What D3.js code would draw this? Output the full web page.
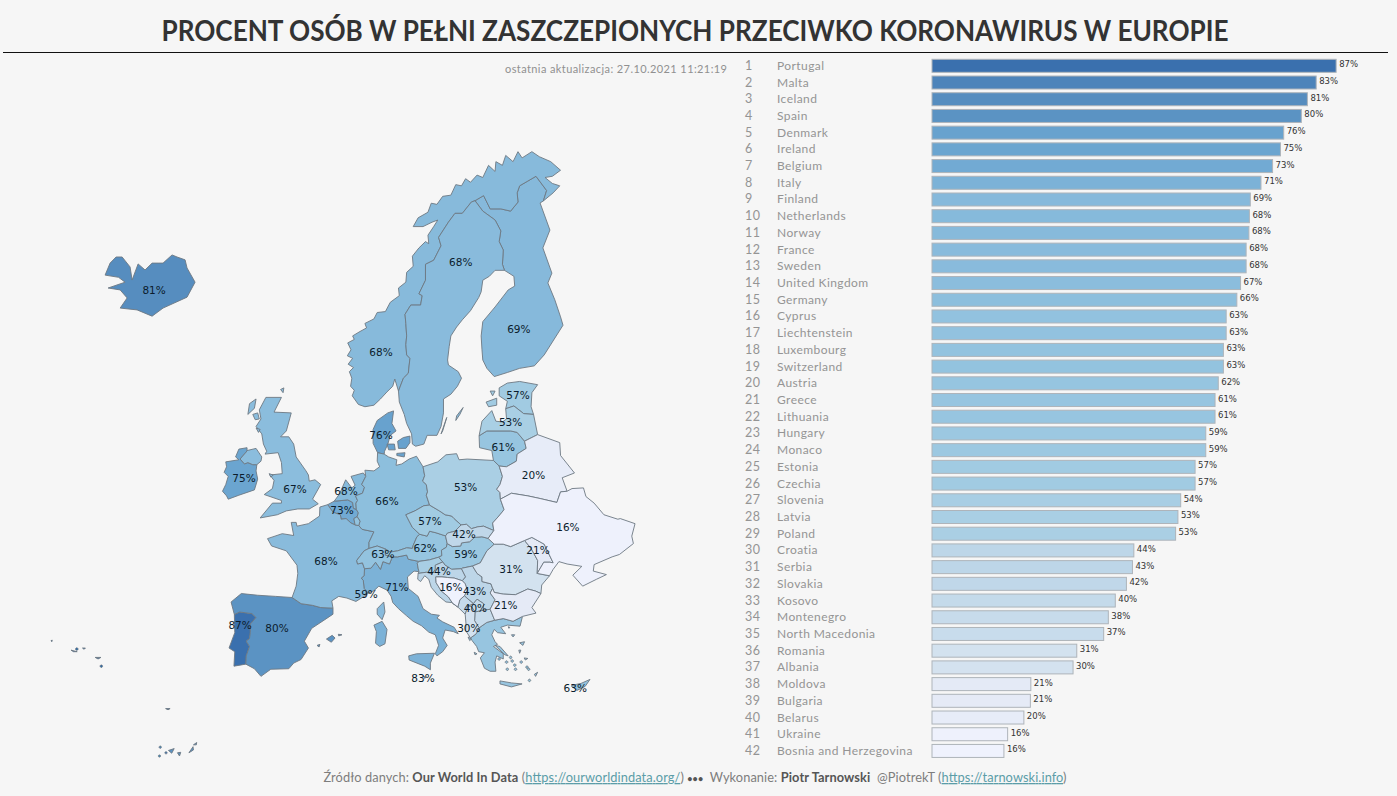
<!DOCTYPE html>
<html><head><meta charset="utf-8">
<script src="https://cdn.jsdelivr.net/npm/d3@7"></script>
<style>
html,body{margin:0;padding:0;background:#f6f6f6;overflow:hidden}
svg{display:block}
</style></head><body>
<svg id="c" width="1397" height="796"></svg>
<script>
const countries=["Portugal","Malta","Iceland","Spain","Denmark","Ireland","Belgium","Italy","Finland","Netherlands","Norway","France","Sweden","United Kingdom","Germany","Cyprus","Liechtenstein","Luxembourg","Switzerland","Austria","Greece","Lithuania","Hungary","Monaco","Estonia","Czechia","Slovenia","Latvia","Poland","Croatia","Serbia","Slovakia","Kosovo","Montenegro","North Macedonia","Romania","Albania","Moldova","Bulgaria","Belarus","Ukraine","Bosnia and Herzegovina"];
const values=[87.1,82.8,80.9,79.6,75.8,75.1,73.4,70.9,68.6,68.4,68.3,67.7,67.7,66.5,65.7,63.4,63.4,62.8,62.8,61.7,61.0,61.0,59.0,59.0,56.7,56.7,53.6,53.0,52.5,43.5,43.2,41.9,39.5,38.0,37.0,31.2,30.4,21.3,21.2,19.8,16.3,15.5];
const colorStops=[15.5,21,31,44,53,63,68,75,80,87];
const colorRange=["#eff2fd","#e5eaf6","#d3e2ef","#bcd5e8","#a9cfe4","#93c3df","#88bbdc","#6ba5d0","#5a91c2","#3a70ae"];
const titleText="PROCENT OSÓB W PEŁNI ZASZCZEPIONYCH PRZECIWKO KORONAWIRUS W EUROPIE";
const updatedText="ostatnia aktualizacja: 27.10.2021 11:21:19";

// shared border lines, lon/lat
const arcs={
no_se:[[11.2,59],[11.8,59.8],[12.4,60.1],[12.6,61],[12.2,61.2],[12.1,61.8],[12.2,62.3],[12.1,63],[12,63.5],[12.7,64],[13.9,64],[14.1,64.5],[13.7,64.6],[14.5,65.3],[14.5,66.1],[15.5,66.3],[16.4,67],[16.1,67.4],[17.3,68.1],[18.1,68.5],[19,68.5],[20.1,69],[20.55,69.06]],
no_fi:[[20.55,69.06],[21.6,69.28],[22.4,68.7],[23.7,68.7],[24.9,68.6],[25.8,69],[25.7,69.4],[26,69.7],[27,69.9],[28,70.1],[29.3,69.5],[28.9,69.05]],
no_coast:[[11.2,59],[10.75,59.75],[10.5,59.3],[9.8,58.95],[9,58.5],[8.2,58.1],[7.1,58],[6.3,58.15],[5.55,58.7],[5.8,59.05],[5.35,59.3],[5.5,59.8],[5.2,60.2],[5.7,60.45],[5.05,60.65],[5.6,61],[4.95,61.15],[5.4,61.5],[5,61.9],[5.8,62.1],[5.6,62.3],[6.5,62.55],[7.3,62.75],[7.1,63],[8.2,63.25],[8.6,63.6],[9.6,63.65],[10.2,64.15],[11.3,64.5],[11.2,64.9],[12.1,65.2],[12.2,65.7],[13,66],[12.9,66.5],[13.7,66.9],[14.5,67.2],[14.9,67.1],[14.8,67.5],[15.5,67.9],[16,68.2],[15.3,68.1],[14.2,67.9],[13,67.9],[13.6,68.3],[14.8,68.55],[15.2,68.95],[15.9,68.9],[16.6,69.25],[17.6,69.3],[18.2,69.75],[18.9,69.7],[19.4,70],[20,69.85],[20.8,70.15],[21.5,70.05],[22.2,70.55],[23,70.3],[23.1,70.7],[23.9,70.55],[24.3,70.95],[25.2,70.7],[25.8,71.1],[26.3,70.85],[27.5,71.1],[28.4,70.9],[29.8,70.7],[31,70.35],[30,70.1],[29.1,70.05],[30,69.8],[30.9,69.7],[30.1,69.4],[28.9,69.05]],
se_fi:[[20.55,69.06],[21.5,68.6],[23,68.2],[23.7,67.7],[23.5,67.2],[24,66.8],[23.9,66.1],[24.15,65.8]],
se_coast:[[24.15,65.8],[23,65.8],[22.3,65.5],[21.5,65.3],[21.3,64.7],[21,64.4],[20,63.7],[19,63.2],[18.3,62.8],[17.6,62.3],[17.4,61.7],[17.2,60.9],[17.3,60.6],[18.5,60.2],[18.9,59.8],[18.4,59.3],[17.6,58.8],[16.7,58.5],[16.7,57.6],[16.4,56.7],[15.9,56.1],[14.7,56.1],[14.3,55.5],[13.3,55.35],[12.9,55.5],[12.8,56.2],[12.2,56.9],[11.9,57.5],[11.3,58.3],[11.2,59]],
fi_coast:[[24.15,65.8],[25.3,65.5],[25.4,65],[24.6,64.8],[23,63.9],[21.5,63.1],[21.3,62.3],[21.4,61.5],[21.5,60.9],[22,60.4],[22.9,59.9],[24.5,60.15],[26,60.4],[27.8,60.55],[29,61.2],[31.3,62.9],[31,63.36],[30.3,64.28],[29.45,65.16],[29.94,65.66],[28.84,66.9],[29.7,67.74],[28.5,68.96],[28.9,69.05]],
de_dk:[[8.65,54.9],[9.45,54.8]],
de_balt:[[9.45,54.8],[10,54.6],[11,54.4],[10.9,54],[11.6,54.1],[12.5,54.45],[13.4,54.65],[14.2,53.9]],
de_pl:[[14.2,53.9],[14.4,53.25],[14.15,52.85],[14.6,52.6],[14.75,52.05],[14.6,51.8],[15,51.05]],
de_cz:[[15,51.05],[14.3,51],[13.2,50.6],[12.1,50.3],[12.5,49.8],[12.9,49.3],[13.8,48.75]],
de_at:[[13.8,48.75],[13.45,48.55],[13,47.85],[12.9,47.6],[12.2,47.65],[11.1,47.4],[10.2,47.3],[9.6,47.55]],
de_ch:[[9.6,47.55],[8.6,47.8],[7.6,47.6]],
de_fr:[[7.6,47.6],[7.6,48.1],[8.2,48.95],[6.75,49.15],[6.35,49.45]],
de_lu:[[6.35,49.45],[6.5,49.8],[6.15,50.15]],
de_be:[[6.15,50.15],[6.3,50.45],[6.05,50.72]],
de_nl:[[6.05,50.72],[6,51.2],[6.2,51.4],[5.95,51.75],[6.8,51.95],[7.05,52.4],[6.7,52.6],[7.2,53.2]],
de_n:[[7.2,53.2],[7.1,53.65],[8.2,53.6],[8.9,53.9],[8.6,54.3],[8.65,54.9]],
fr_n:[[2.55,51.08],[1.6,50.9],[1.55,50.2],[0.2,49.6],[-1.2,49.4],[-1.3,49.7],[-1.9,49.7],[-1.6,48.65],[-3,48.8],[-4.8,48.4],[-4.3,47.8],[-2.5,47.4],[-1.2,46.2],[-1.1,45.5],[-1.3,44.4],[-1.8,43.4]],
fr_es:[[-1.8,43.4],[-0.7,42.85],[0.7,42.7],[1.7,42.5],[3.2,42.45]],
fr_med:[[3.2,42.45],[3.05,43.1],[3.9,43.5],[4.9,43.35],[6,43.05],[7,43.5],[7.5,43.78]],
fr_it:[[7.5,43.78],[7,44.2],[6.9,44.9],[6.65,45.1],[7,45.3],[7.05,45.9]],
fr_ch:[[7.05,45.9],[6.8,46.4],[6.2,46.3],[6.1,46.6],[7,47.4],[7.6,47.6]],
fr_lu:[[6.35,49.45],[5.9,49.5]],
fr_be:[[5.9,49.5],[5.4,49.65],[4.8,50],[4.2,49.95],[4.1,50.3],[3.2,50.5],[2.55,51.08]],
be_lu:[[6.15,50.15],[5.75,50],[5.9,49.5]],
be_nl:[[3.35,51.35],[4.3,51.4],[5,51.45],[5.6,51.25],[5.7,50.8],[6.05,50.72]],
be_c:[[3.35,51.35],[2.55,51.08]],
nl_c:[[3.35,51.35],[4,51.9],[4.75,52.95],[5.5,52.35],[5.9,52.55],[5.4,53.2],[6.9,53.45],[7.2,53.2]],
jut_c:[[8.65,54.9],[8.1,55.55],[8.1,56.5],[8.6,57.1],[9.9,57.6],[10.6,57.73],[10.4,56.9],[10.9,56.4],[10.2,56.1],[9.9,55.5],[9.5,55],[9.45,54.8]],
pl_coast:[[14.2,53.9],[16,54.25],[17,54.75],[18.3,54.83],[18.6,54.4],[19.6,54.45],[22.8,54.35]],
pl_lt:[[22.8,54.35],[23.5,53.95]],
pl_by:[[23.5,53.95],[23.9,53.2],[23.6,52.6],[23.2,52.25],[23.6,52],[23.65,51.5]],
pl_ua:[[23.65,51.5],[24.1,50.7],[23.6,50.3],[22.7,49.65],[22.85,49.05]],
pl_sk:[[22.85,49.05],[21.6,49.4],[20.9,49.35],[20.1,49.2],[19.5,49.55],[18.85,49.5]],
pl_cz:[[18.85,49.5],[18,50],[17.7,50.2],[16.9,50.3],[16.2,50.6],[15,51.05]],
cz_sk:[[18.85,49.5],[18.1,49],[17.2,48.85],[16.95,48.62]],
cz_at:[[16.95,48.62],[15.8,48.87],[15,49],[14.7,48.6],[13.8,48.75]],
sk_at:[[16.95,48.62],[17.15,48]],
sk_ua:[[22.85,49.05],[22.15,48.42]],
sk_hu:[[22.15,48.42],[21.4,48.55],[20.5,48.5],[19.9,48.15],[18.9,48.05],[18.8,47.8],[17.8,47.75],[17.15,48]],
at_hu:[[17.15,48],[17.05,47.7],[16.45,47.45],[16.5,47],[16.1,46.87]],
at_si:[[16.1,46.87],[15,46.65],[13.7,46.52]],
at_it:[[13.7,46.52],[12.4,46.7],[12.2,47.05],[11.1,46.9],[10.45,46.9]],
at_ch:[[10.45,46.9],[9.6,47.05],[9.6,47.55]],
ch_it:[[10.45,46.9],[10.1,46.3],[9.3,46.5],[9,45.85],[8.4,46.45],[7.85,45.95],[7.05,45.9]],
it_c:[[7.5,43.78],[8.2,44],[8.8,44.4],[9.8,44.05],[10.3,43.5],[10.5,42.95],[11.2,42.4],[12.2,41.75],[13,41.25],[14,40.85],[14.9,40.25],[15.7,40],[16.1,39],[15.7,38.2],[15.9,38],[16.6,38.4],[17.15,39],[16.6,39.7],[16.9,40.45],[17.9,40.3],[18.5,40.1],[18,40.7],[16.6,41.2],[15.9,41.55],[16.2,41.8],[15.2,41.9],[14.2,42.4],[13.6,43.5],[12.4,44.2],[12.3,45.2],[13.1,45.7],[13.7,45.65]],
it_si:[[13.7,45.65],[13.6,45.95],[13.5,46.35],[13.7,46.52]],
si_c:[[13.6,45.5],[13.7,45.65]],
si_hu:[[16.1,46.87],[16.6,46.47]],
si_hr:[[16.6,46.47],[15.7,46.2],[15.7,45.85],[15.3,45.45],[14.6,45.6],[13.6,45.5]],
hu_ua:[[22.15,48.42],[22.9,47.95]],
hu_ro:[[22.9,47.95],[22,47.4],[21.2,46.4],[20.25,46.13]],
hu_rs:[[20.25,46.13],[19,45.95],[18.9,45.9]],
hu_hr:[[18.9,45.9],[17.7,45.85],[16.9,46.2],[16.6,46.47]],
hr_c:[[13.6,45.5],[13.55,45],[13.9,44.8],[14.4,45.3],[14.9,45],[15.2,44.3],[16,43.6],[17,43],[17.7,42.95],[18.45,42.55]],
hr_ba:[[18.45,42.55],[17.8,42.9],[17.3,43.45],[16.4,44],[15.8,44.7],[15.75,45.2],[16.5,45.2],[17.2,45.15],[18,45.1],[19,44.87]],
hr_rs:[[19,44.87],[19.4,45.2],[18.9,45.9]],
ba_rs:[[19,44.87],[19.35,44.6],[19.6,44.05],[19.25,43.55]],
ba_me:[[19.25,43.55],[18.7,43.2],[18.45,42.55]],
me_c:[[18.45,42.55],[19.35,41.9]],
me_al:[[19.35,41.9],[19.7,42.65]],
me_xk:[[19.7,42.65],[20.35,42.85]],
me_rs:[[20.35,42.85],[19.25,43.55]],
rs_ro:[[20.25,46.13],[20.8,45.5],[21.4,45.2],[21.4,44.8],[22.5,44.6],[22.7,44.2]],
rs_bg:[[22.7,44.2],[22.4,43.8],[23,43.2],[22.4,42.35]],
rs_mk:[[22.4,42.35],[21.55,42.25]],
rs_xk:[[21.55,42.25],[21.6,42.85],[20.8,43.25],[20.35,42.85]],
xk_al:[[19.7,42.65],[20.1,42.6],[20.55,42.1]],
xk_mk:[[20.55,42.1],[21.55,42.25]],
al_c:[[19.35,41.9],[19.45,41],[19.4,40.4],[20,39.7]],
al_gr:[[20,39.7],[20.7,40.1],[21.05,40.65]],
al_mk:[[21.05,40.65],[20.5,41.3],[20.55,42.1]],
mk_bg:[[22.4,42.35],[22.95,41.35]],
mk_gr:[[22.95,41.35],[22,41.15],[21.05,40.65]],
gr_bg:[[22.95,41.35],[24,41.5],[25.2,41.25],[26.35,41.7]],
gr_c:[[26.35,41.7],[26.05,40.8],[24.5,40.9],[23.7,40.7],[24.3,40.1],[23.3,40.2],[22.9,40.5],[22.6,40],[23,39.35],[23.3,39.1],[22.8,38.9],[24,38.2],[24,37.7],[23.2,38],[23,37.4],[23.1,36.5],[22.4,36.5],[21.7,36.8],[21.2,37.8],[21.7,38.3],[21,38.4],[20.75,38.9],[20.2,39.45],[20,39.7]],
bg_c:[[28.6,43.75],[27.5,42.5],[28,42],[26.35,41.7]],
bg_ro:[[28.6,43.75],[27.9,43.98],[27,44.15],[25.5,43.65],[24,43.7],[22.9,43.85],[22.7,44.2]],
ro_ua_n:[[22.9,47.95],[24,47.95],[24.9,47.75],[26.6,48.25]],
ro_md:[[26.6,48.25],[27.4,47.6],[28.2,46.6],[28.15,45.5]],
ro_ua_s:[[28.15,45.5],[29.65,45.3]],
ro_c:[[29.65,45.3],[28.7,44.5],[28.6,43.75]],
md_ua:[[26.6,48.25],[27.5,48.5],[29,47.95],[30.1,46.4],[29.7,46.45],[28.95,46.45],[28.15,45.5]],
by_ua:[[23.65,51.5],[25,51.95],[27,51.75],[28.5,51.55],[30.55,51.25],[31,52.05],[31.8,52.1]],
ua_e:[[31.8,52.1],[32.4,52.3],[33.8,52.35],[34.1,51.7],[35.1,51.2],[36.3,50.3],[38,49.95],[38.3,50],[40.1,49.6],[39.7,48.6],[39.9,48],[38.2,47.1],[37.3,46.9],[35.1,46.25],[35,45.7],[36.6,45.4],[35.4,45],[33.7,44.4],[32.5,45.35],[33.6,46.1],[31.8,46.3],[30.8,46.5],[30.1,45.85],[29.65,45.3]],
by_e:[[28.2,56.15],[30.9,55.6],[31,54.7],[32.7,53.45],[31.2,53.1],[31.8,52.1]],
lv_by:[[28.2,56.15],[26.6,55.7]],
lt_by:[[26.6,55.7],[26.8,55.2],[25.7,54.8],[25.6,54.3],[24.4,53.9],[23.5,53.95]],
lt_kal:[[22.8,54.35],[22.6,55.05],[21.1,55.25]],
lt_c:[[21.1,55.25],[21.05,56.07]],
lt_lv:[[26.6,55.7],[25.7,56.3],[24.9,56.4],[22,56.4],[21.05,56.07]],
lv_c:[[21.05,56.07],[21.4,57.05],[22.6,57.75],[23.1,57.05],[23.9,57],[24.4,57.2],[24.3,57.87]],
lv_ee:[[27.7,57.5],[26.5,57.55],[25.3,58.05],[24.3,57.87]],
lv_e:[[27.7,57.5],[28.2,56.15]],
ee_c:[[24.3,57.87],[24.5,58.35],[23.5,58.7],[23.5,59.2],[24.5,59.5],[26,59.6],[28.2,59.4]],
ee_e:[[28.2,59.4],[27.5,58.9],[27.4,58],[27.7,57.5]],
pt_es:[[-8.85,41.87],[-8.2,42.1],[-6.7,41.95],[-6.2,41.6],[-6.9,41],[-6.9,40.2],[-7,39.65],[-7.4,39.4],[-7,38.9],[-7.4,38],[-7.45,37.2]],
es_s:[[-7.45,37.2],[-6.4,36.75],[-5.6,36],[-4.4,36.7],[-2.2,36.75],[-1.6,37.3],[-0.7,37.65],[0.2,38.75],[-0.3,39.4],[0.6,40.6],[2.2,41.4],[3.2,41.9],[3.2,42.45]],
es_n:[[-1.8,43.4],[-3.8,43.5],[-6,43.6],[-8,43.75],[-9.25,43],[-8.85,41.87]],
pt_c:[[-7.45,37.2],[-8.9,37],[-8.8,38.4],[-9.5,38.75],[-8.8,40.2],[-8.85,41.87]],
ie_ni:[[-6.1,54.05],[-6.6,54.05],[-7.2,54.2],[-7.6,54.1],[-8.15,54.45],[-7.4,54.95],[-7.3,55.05]],
ie_c:[[-7.3,55.05],[-7.3,55.25],[-8.3,55.15],[-8.7,54.6],[-8.3,54.4],[-9.9,54.25],[-9.8,53.9],[-10.1,53.5],[-9.6,53.2],[-9.9,52.6],[-10.3,52.1],[-9.8,51.75],[-9.6,51.5],[-8.3,51.8],[-6.4,52.2],[-6,53],[-6.2,53.6],[-6.1,54.05]]
};
// country outlines: border lines ("-" = walked backwards) and separate islands
const borders={
Norway:["no_coast","-no_fi","-no_se"],Sweden:["no_se","se_fi","se_coast"],Finland:["fi_coast","-no_fi","se_fi"],
Germany:["de_dk","de_balt","de_pl","de_cz","de_at","de_ch","de_fr","de_lu","de_be","de_nl","de_n"],
Poland:["pl_coast","pl_lt","pl_by","pl_ua","pl_sk","pl_cz","-de_pl"],
Czechia:["de_cz","-cz_at","-cz_sk","pl_cz"],
Slovakia:["pl_sk","cz_sk","sk_at","-sk_hu","-sk_ua"],
Austria:["de_at","-at_ch","-at_it","-at_si","-at_hu","-sk_at","cz_at"],
Switzerland:["de_ch","-fr_ch","-ch_it","at_ch"],
France:["fr_n","fr_es","fr_med","fr_it","fr_ch","de_fr","fr_lu","fr_be"],
Belgium:["-fr_be","-be_lu","de_be","-be_nl","be_c"],
Luxembourg:["de_lu","be_lu","-fr_lu"],
Netherlands:["be_nl","de_nl","-nl_c"],
Denmark:["jut_c","-de_dk"],
Italy:["it_c","it_si","at_it","ch_it","-fr_it"],
Slovenia:["si_c","it_si","-at_si","si_hu","si_hr"],
Hungary:["-at_hu","-sk_hu","hu_ua","hu_ro","hu_rs","hu_hr","-si_hu"],
Croatia:["si_hr","hr_c","hr_ba","hr_rs","hu_hr"],
"Bosnia and Herzegovina":["hr_ba","ba_rs","ba_me"],
Montenegro:["-ba_me","-me_rs","-me_xk","-me_al","-me_c"],
Serbia:["-ba_rs","hr_rs","-hu_rs","rs_ro","rs_bg","rs_mk","rs_xk","me_rs"],
Kosovo:["-rs_xk","-xk_mk","-xk_al","me_xk"],
Albania:["me_al","xk_al","-al_mk","-al_gr","-al_c"],
"North Macedonia":["al_mk","xk_mk","-rs_mk","mk_bg","mk_gr"],
Greece:["al_gr","-mk_gr","gr_bg","gr_c"],
Bulgaria:["-rs_bg","-bg_ro","bg_c","-gr_bg","-mk_bg"],
Romania:["-hu_ro","ro_ua_n","ro_md","ro_ua_s","ro_c","bg_ro","-rs_ro"],
Moldova:["-ro_md","md_ua"],
Ukraine:["by_ua","ua_e","-ro_ua_s","-md_ua","-ro_ua_n","-hu_ua","-sk_ua","-pl_ua"],
Belarus:["-pl_by","-lt_by","-lv_by","by_e","-by_ua"],
Lithuania:["lt_by","-pl_lt","lt_kal","lt_c","-lt_lv"],
Latvia:["lt_lv","lv_c","-lv_ee","lv_e","lv_by"],
Estonia:["lv_ee","ee_c","ee_e"],
Spain:["pt_es","es_s","-fr_es","es_n"],
Portugal:["pt_es","pt_c"],
Ireland:["ie_ni","ie_c"]
};
const extraRings={
Iceland:[[[-24.64,65.56],[-24.03,66.16],[-23.3,66.46],[-22.56,66.46],[-21.59,65.97],[-21.34,65.31],[-20.61,66.12],[-19.76,65.82],[-18.9,66.16],[-18.17,66.16],[-17.56,66.16],[-16.46,66.56],[-15.85,66.46],[-14.87,66.32],[-14.63,65.92],[-13.65,65.2],[-14.63,64.42],[-17.56,63.84],[-18.9,63.4],[-20.73,63.74],[-22.8,63.84],[-21.95,64.38],[-22.8,64.8],[-24.27,64.9],[-22.2,65.2],[-23,65.45]]],
"United Kingdom":[
[[-7.3,55.05],[-6.2,55.2],[-5.5,54.6],[-5.6,54.3],[-6.1,54.05],[-6.6,54.05],[-7.2,54.2],[-7.6,54.1],[-8.15,54.45],[-7.4,54.95]],
[[-5.7,50.05],[-3.6,50.3],[-2.5,50.6],[-1.1,50.75],[0.3,50.75],[1.4,51.15],[0.7,51.5],[1.7,52.6],[1,52.95],[0.3,52.85],[0.2,53.3],[-0.1,53.6],[-1.3,54.6],[-1.6,55.5],[-2.2,56],[-3.2,56],[-2.5,56.4],[-2.1,57.2],[-1.9,57.6],[-4,57.65],[-3.1,58.6],[-5,58.6],[-5.8,57.8],[-5.6,57.2],[-6.2,56.7],[-5.5,56.2],[-5.3,55.5],[-4.9,55],[-5.1,54.8],[-3.5,54.9],[-3.1,54.2],[-3,53.4],[-4.5,53.3],[-4,52.9],[-4.2,52.3],[-5.2,51.85],[-3.1,51.4],[-3.1,51.2],[-4.2,51.2],[-5.7,50.05]],
[[-7,58.2],[-6.2,58.5],[-6.4,57.9],[-7.2,57.5]],[[-6.6,57.5],[-6,57.6],[-5.8,57.2],[-6.3,57.15]],[[-6.2,56.6],[-5.7,56.5],[-5.9,56.3]],[[-4.6,53.4],[-4.1,53.3],[-4.4,53.15]],[[-3.2,59.1],[-2.8,59.2],[-2.9,58.9]]],
Denmark:[[[9.8,55.5],[10.7,55.5],[10.8,55.1],[10,55.1]],[[11.1,55.7],[11.8,55.95],[12.6,56.05],[12.6,55.6],[12.1,55.2],[11.2,55.2]],[[11,54.85],[12,54.9],[11.9,54.6],[11,54.7]]],
Sweden:[[[18.2,57.1],[18.7,57.5],[19.1,57.95],[18.3,57.4]],[[16.4,56.2],[17.1,57.3],[16.6,56.4]]],
Italy:[[[12.45,38],[13.4,38.2],[15.6,38.25],[15.1,37.3],[15.1,36.65],[14.4,37],[12.5,37.6]],[[8.2,40.9],[9.2,41.25],[9.8,40.5],[9.55,39.15],[8.9,38.9],[8.4,39.2],[8.5,40.3]]],
France:[[[9.4,43],[9.55,42.1],[9.2,41.4],[8.6,41.9],[8.6,42.4]]],
Spain:[[[2.4,39.6],[3.1,39.95],[3.45,39.7],[3,39.3]],[[3.85,40.05],[4.3,40],[3.9,39.9]],[[1.25,39],[1.6,39.1],[1.5,38.85]],[[-16.9,28.35],[-16.2,28.55],[-16.5,28.05]],[[-15.8,28.1],[-15.4,28.15],[-15.55,27.75]],[[-14.4,28.1],[-13.9,28.75],[-13.85,28.4]],[[-13.85,28.95],[-13.45,29.2],[-13.5,28.95]]],
Portugal:[[[-28.8,38.55],[-28.05,38.4],[-28.5,38.4]],[[-25.85,37.85],[-25.15,37.85],[-25.5,37.7]],[[-31.25,39.45],[-31.1,39.5],[-31.15,39.35]],[[-27.4,38.75],[-27.05,38.75],[-27.2,38.63]],[[-17.25,32.75],[-16.7,32.75],[-16.95,32.63]]],
Greece:[[[23.6,35.55],[25,35.35],[26.3,35.25],[25,34.95],[23.6,35.25]],[[23,39],[23.6,38.9],[24.6,38],[24.2,38.1]],[[26,39.25],[26.6,39.35],[26.4,39]],[[25.9,38.55],[26.15,38.55],[26,38.25]],[[27.8,36.2],[28.2,36.4],[27.95,36]],[[19.7,39.8],[20.1,39.6],[19.9,39.45]],[[20.45,38.35],[20.8,38.2],[20.55,38.1]],[[25,40],[25.4,40],[25.2,39.8]],[[26.55,37.8],[27,37.75],[26.7,37.6]],[[24.6,40.75],[24.8,40.7],[24.7,40.6]]],
Estonia:[[[21.9,58.3],[23.2,58.55],[23.2,58.1],[22.2,58]],[[22.4,59],[23,59],[22.7,58.7]]],
Cyprus:[[[32.3,35.05],[33,34.6],[34,35],[34.6,35.7],[33.5,35.3],[32.9,35.2]]],
Malta:[[[14.2,36.05],[14.55,35.9],[14.4,35.8]]]
};
const islets=[["Greece",25.4,37.1],["Greece",25.1,37.5],["Greece",24.9,37.85],["Greece",24.4,37.4],["Greece",25.5,36.7],["Greece",26.9,36.9],["Greece",27.1,36.7],["Greece",27.2,35.6],["Greece",24.5,36.7],["Greece",23.5,37.7],["Greece",26.2,37.4],["Spain",-17.9,28.7],["Spain",-17.2,28.1],["Spain",-18,27.75],["Portugal",-28.1,38.65],["Portugal",-25.1,37.0]];
const labelPoints=[["Iceland",-18.66,64.8],["Norway",9.06,61.4],["Sweden",18.8,66.2],["Finland",25.9,62.7],["Estonia",25.8,58.76],["Latvia",24.9,57],["Lithuania",24,55.3],["Belarus",27.7,53.3],["Ukraine",31.9,49.3],["Poland",19.4,52.4],["Denmark",9.06,56.1],["Ireland",-7.67,53.1],["United Kingdom",-1.44,52.3],["Netherlands",4.79,52.1],["Belgium",4.3,50.66],["Germany",9.8,51.36],["Czechia",15.05,49.8],["Slovakia",19.2,48.8],["Austria",14.46,47.64],["Hungary",19.44,47.1],["Switzerland",9.3,47.1],["Romania",24.95,45.9],["Moldova",28.25,47.5],["France",2.34,46.56],["Monaco",7.25,43.7],["Italy",11,44.3],["Croatia",16.15,45.7],["Bosnia and Herzegovina",17.6,44.3],["Serbia",20.5,44],["Kosovo",20.6,42.5],["Bulgaria",24.3,42.7],["Albania",19.8,40.6],["Spain",-3.64,40.6],["Portugal",-8.15,40.9],["Malta",14.2,35.85],["Cyprus",32.8,34.84]];

const svg=d3.select("#c");
const W=1397,H=796;
svg.append("rect").attr("width",W).attr("height",H).attr("fill","#f6f6f6");
const valueOf=new Map(countries.map((c,i)=>[c,values[i]]));
const color=d3.scaleLinear().domain(colorStops).range(colorRange).interpolate(d3.interpolateRgb);
const pct=v=>Math.round(v)+"%";

// header
svg.append("text").attr("x",695).attr("y",41).attr("text-anchor","middle")
 .attr("font-family","Lato").attr("font-weight",700).attr("font-size",28.5).attr("fill","#333")
 .attr("textLength",1067).attr("lengthAdjust","spacingAndGlyphs").text(titleText);
svg.append("line").attr("x1",3).attr("x2",1388).attr("y1",52.5).attr("y2",52.5).attr("stroke","#111").attr("stroke-width",1);
svg.append("text").attr("x",727).attr("y",72.5).attr("text-anchor","end")
 .attr("font-family","Lato").attr("font-size",11).attr("fill","#909090").attr("textLength",222).text(updatedText);

// map
const projection=d3.geoMercator().scale(469).translate([306.8,992.6]);
const ringLine=d3.line().x(p=>projection(p)[0]).y(p=>projection(p)[1]).curve(d3.curveLinearClosed);
const walk=names=>names.flatMap(n=>n[0]==="-"?arcs[n.slice(1)].slice().reverse():arcs[n]);
const shapes=[];
countries.forEach(c=>{
  if(borders[c]) shapes.push({c,ring:walk(borders[c])});
  (extraRings[c]||[]).forEach(r=>shapes.push({c,ring:r}));
});
const map=svg.append("g");
map.selectAll("path.s").data(shapes).join("path").attr("class","s")
 .attr("d",d=>ringLine(d.ring)).attr("fill",d=>color(valueOf.get(d.c)))
 .attr("stroke","#6d7882").attr("stroke-width",0.9).attr("stroke-linejoin","round");
const geoPath=d3.geoPath(projection);
map.selectAll("path.i").data(islets).join("path").attr("class","i")
 .attr("d",d=>geoPath(d3.geoCircle().center([d[1],d[2]]).radius(0.12)()))
 .attr("fill",d=>color(valueOf.get(d[0]))).attr("stroke","#6d7882").attr("stroke-width",0.8);
map.selectAll("text").data(labelPoints).join("text")
 .attr("x",d=>projection([d[1],d[2]])[0]).attr("y",d=>projection([d[1],d[2]])[1]+4)
 .attr("text-anchor","middle").attr("font-family","DejaVu Sans").attr("font-size",10.5).attr("fill","#0b1c2c")
 .text(d=>pct(valueOf.get(d[0])));

// ranking
const x=d3.scaleLinear().domain([0,100]).range([932,1396]);
const y=d3.scaleBand().domain(countries).range([57.45,759.3]).paddingInner(0.222).paddingOuter(0.111);
const rows=svg.append("g").selectAll("g").data(countries).join("g");
rows.append("text").attr("x",745).attr("y",c=>y(c)+y.bandwidth()/2+4)
 .attr("font-family","Lato").attr("font-size",12.5).attr("letter-spacing",0.5).attr("fill","#949494").text((c,i)=>i+1);
rows.append("text").attr("x",777).attr("y",c=>y(c)+y.bandwidth()/2+4)
 .attr("font-family","Lato").attr("font-size",12).attr("letter-spacing",0.42).attr("fill","#949494").text(c=>c);
rows.append("rect").attr("x",x(0)).attr("y",c=>y(c)).attr("height",y.bandwidth())
 .attr("width",c=>x(valueOf.get(c))-x(0)).attr("fill",c=>color(valueOf.get(c)))
 .attr("stroke","#aeb4ba").attr("stroke-width",1);
rows.append("text").attr("x",c=>x(valueOf.get(c))+3).attr("y",c=>y(c)+y.bandwidth()/2+1.5)
 .attr("font-family","DejaVu Sans").attr("font-size",8.5).attr("fill","#333").text(c=>pct(valueOf.get(c)));

// footer
const foot=svg.append("text").attr("x",695).attr("y",782).attr("text-anchor","middle")
 .attr("font-family","Lato").attr("font-size",12.8).attr("fill","#7d7d7d").attr("textLength",743).attr("style","white-space:pre");
const parts=[["Źródło danych: ",0],["Our World In Data",1],[" (",0],["https://ourworldindata.org/",2],[") ",0],["•••",3],["  Wykonanie: ",0],["Piotr Tarnowski",1],["  @PiotrekT (",0],["https://tarnowski.info",2],[")",0]];
parts.forEach(([t,k])=>{
  const s=foot.append("tspan").text(t);
  if(k===1) s.attr("font-weight",700).attr("fill","#555");
  if(k===2) s.attr("fill","#5b9da8").attr("text-decoration","underline");
  if(k===3) s.attr("font-size",9).attr("font-weight",700).attr("fill","#555");
});
</script>
</body></html>
